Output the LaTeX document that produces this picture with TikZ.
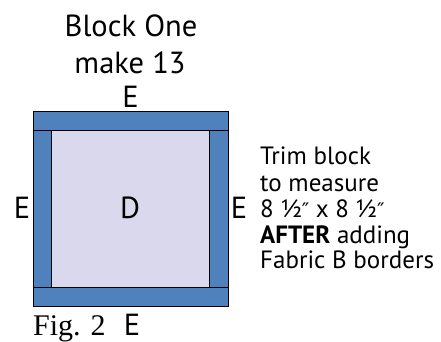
\documentclass[tikz,border=0pt]{standalone}
\usepackage{fontspec}
\setmainfont{PT Sans}
\newfontfamily\figfont{Liberation Serif}
\newfontfamily\symfont{DejaVu Sans}
\definecolor{stripblue}{RGB}{79,129,189}
\definecolor{lavender}{RGB}{218,216,237}
\newcommand{\dprime}{{\symfont\fontsize{20}{24}\selectfont ″}}
\begin{document}
\begin{tikzpicture}[x=1pt,y=-1pt,
  strip/.style={draw=black,line width=0.9pt,fill=stripblue},
  centre/.style={draw=black,line width=0.9pt,fill=lavender},
  big/.style={font=\fontsize{30.5}{32}\selectfont,inner sep=0pt,anchor=base},
  note/.style={font=\fontsize{25}{27}\selectfont,inner sep=0pt,anchor=base west,align=left}]
\useasboundingbox (0,0) rectangle (441,341);
% block
\path[centre] (51.7,130) rectangle (209.7,287.3);
\path[strip] (33.3,111.7) rectangle (228,130);
\path[strip] (33.3,287.3) rectangle (228,306);
\path[strip] (33.3,130) rectangle (51.7,287.3);
\path[strip] (209.7,130) rectangle (228,287.3);
% labels
\node[big] (title) at (131,36) {Block One};
\node[big] (count) at (130,73) {make 13};
\node[big] (etop) at (130.5,107) {E};
\node[big] (eleft) at (22,218) {E};
\node[big] (d) at (130,218) {D};
\node[big] (eright) at (239,218) {E};
\node[big] (ebot) at (132,335) {E};
\node[inner sep=0pt,anchor=base west,font=\figfont\fontsize{30}{32}\selectfont] (fig) at (33,335) {Fig. 2};
\node[note] (l1) at (260,164) {Trim block};
\node[note] (l2) at (260,191) {to measure};
\node[note] (l3) at (260,217) {8 ½\dprime\ x 8 ½\dprime};
\node[note] (l4) at (260,243) {\textbf{AFTER} adding};
\node[note] (l5) at (260,268) {Fabric B borders};
\end{tikzpicture}
\end{document}
